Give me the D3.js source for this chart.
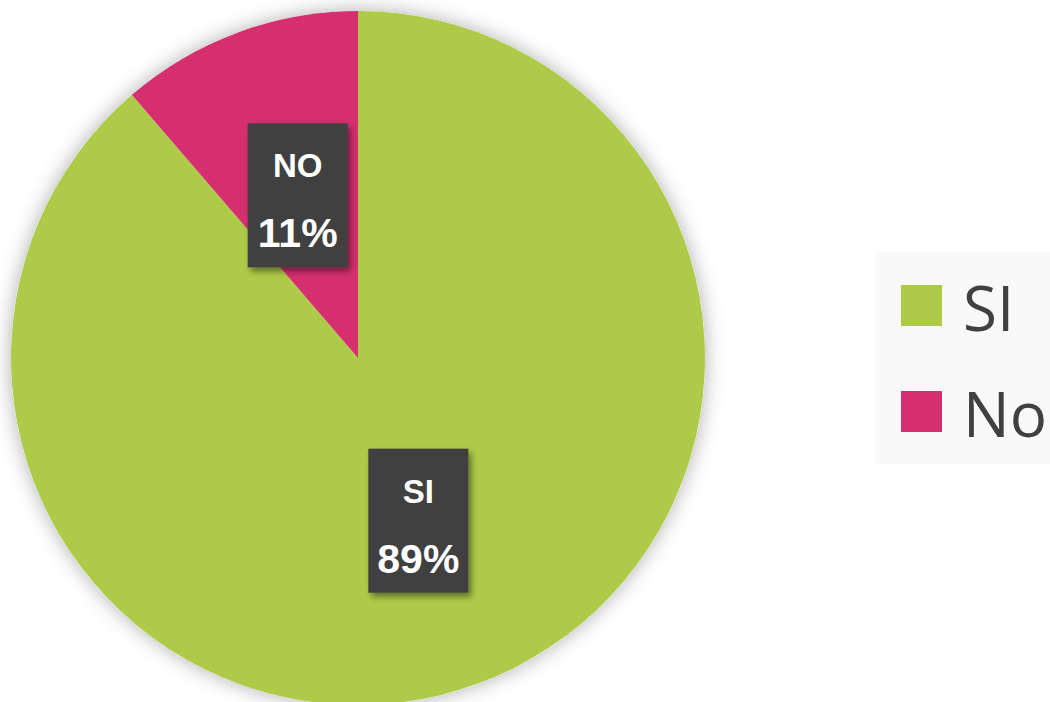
<!DOCTYPE html>
<html>
<head>
<meta charset="utf-8">
<script src="https://cdn.jsdelivr.net/npm/d3@7"></script>
<style>
  body { margin: 0; background: #fff; }
  svg { display: block; }
</style>
</head>
<body>
<svg id="chart" width="1050" height="702"></svg>
<script>
// datos
const categories = ["SI", "No"];
const labelNames = ["SI", "NO"];
const values = [88.7, 11.3];
const colors = ["#adcb48", "#d62f6f"];

const svg = d3.select("#chart");
const width = +svg.attr("width");
const height = +svg.attr("height");

const defs = svg.append("defs");
const glow = defs.append("filter").attr("id", "glow")
  .attr("x", "-10%").attr("y", "-10%").attr("width", "120%").attr("height", "120%");
glow.append("feDropShadow")
  .attr("dx", 0).attr("dy", 0).attr("stdDeviation", 10)
  .attr("flood-color", "#000").attr("flood-opacity", 0.32);

const boxShadow = defs.append("filter").attr("id", "boxShadow")
  .attr("x", "-20%").attr("y", "-20%").attr("width", "150%").attr("height", "150%");
boxShadow.append("feDropShadow")
  .attr("dx", 3).attr("dy", 4).attr("stdDeviation", 3)
  .attr("flood-color", "#000").attr("flood-opacity", 0.45);

const cx = 358, cy = 358, r = 347;

const data = categories.map((c, i) => ({ cat: c, label: labelNames[i], value: values[i], color: colors[i] }));
const total = d3.sum(values);

// SI va en sentido horario desde las 12, No completa el resto
const pie = d3.pie().value(d => d.value).sort(null);
const arcs = pie(data);
const arc = d3.arc().innerRadius(0).outerRadius(r);

const g = svg.append("g").attr("transform", `translate(${cx},${cy})`);

g.append("circle").attr("r", r).attr("fill", "#fff").attr("filter", "url(#glow)");

g.selectAll("path.slice")
  .data(arcs)
  .join("path")
  .attr("class", "slice")
  .attr("d", arc)
  .attr("fill", d => d.data.color);

// etiquetas
const boxW = 100, boxH = 144;
const lab = g.selectAll("g.lab")
  .data(arcs)
  .join("g")
  .attr("class", "lab")
  .attr("transform", d => {
    const [x, y] = arc.centroid(d);
    return `translate(${x},${y})`;
  });

lab.append("rect")
  .attr("x", -boxW / 2).attr("y", -boxH / 2)
  .attr("width", boxW).attr("height", boxH)
  .attr("fill", "#404040")
  .attr("filter", "url(#boxShadow)");

lab.append("text")
  .attr("y", -18)
  .attr("text-anchor", "middle")
  .attr("font-family", "Liberation Sans, Arial, sans-serif")
  .attr("font-weight", "bold")
  .attr("font-size", 33)
  .attr("fill", "#fff")
  .text(d => d.data.label);

lab.append("text")
  .attr("y", 52)
  .attr("text-anchor", "middle")
  .attr("font-family", "Liberation Sans, Arial, sans-serif")
  .attr("font-weight", "bold")
  .attr("font-size", 41)
  .attr("fill", "#fff")
  .text(d => Math.round(d.data.value / total * 100) + "%");

// leyenda
const legend = svg.append("g");
legend.append("rect")
  .attr("x", 875).attr("y", 252)
  .attr("width", width - 875).attr("height", 212)
  .attr("fill", "#f9f9f9");

const ly = d3.scalePoint().domain(categories).range([285, 391]);

const item = legend.selectAll("g.item")
  .data(data)
  .join("g")
  .attr("class", "item")
  .attr("transform", d => `translate(901,${ly(d.cat)})`);

item.append("rect")
  .attr("width", 41).attr("height", 41)
  .attr("fill", d => d.color);

item.append("text")
  .attr("x", 62)
  .attr("y", 46)
  .attr("font-family", "Open Sans, sans-serif")
  .attr("font-size", 62)
  .attr("fill", "#404040")
  .text(d => d.cat);
</script>
</body>
</html>
